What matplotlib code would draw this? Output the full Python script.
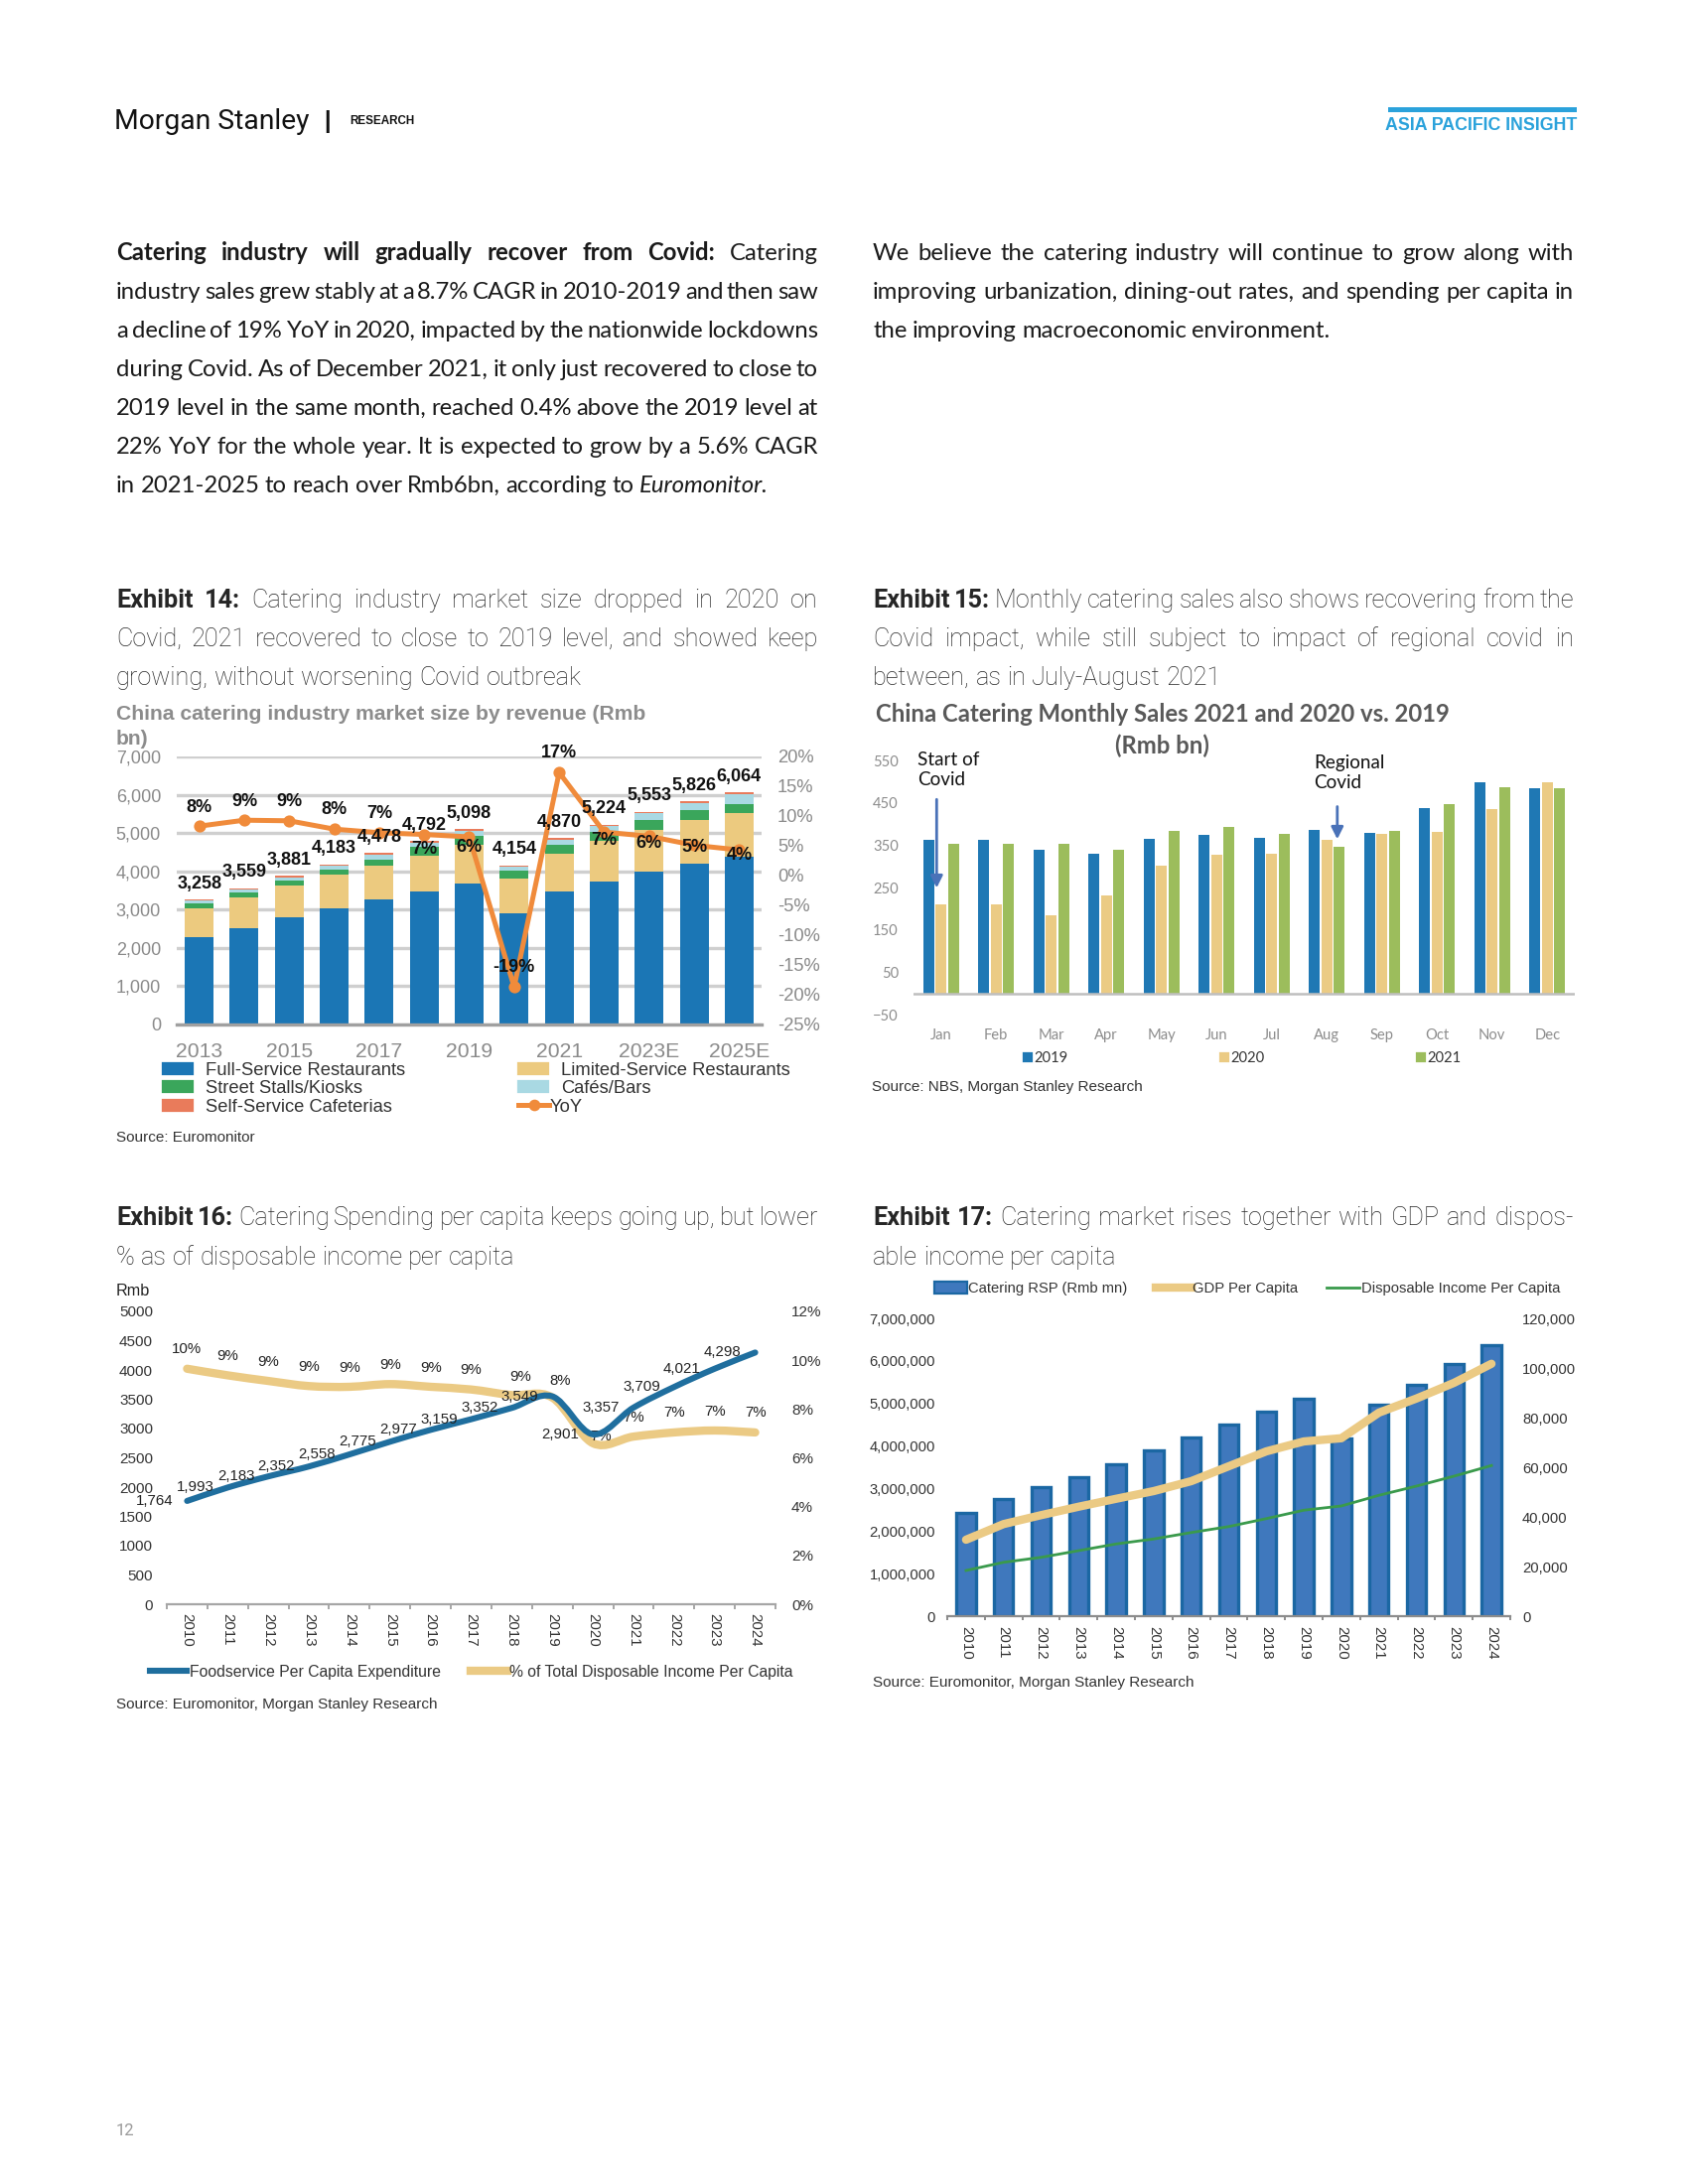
import numpy as np
import matplotlib
matplotlib.use('Agg')
import matplotlib.pyplot as plt
from matplotlib.path import Path
from matplotlib.patches import PathPatch, Rectangle
from matplotlib.lines import Line2D
from matplotlib.ticker import FuncFormatter

W, H, DPI = 1700, 2200, 200
PX = 72 / DPI  # points per pixel

BODY = 'Lato'
TITLE = 'Roboto'
CHART = 'Liberation Sans'
CALIBRI = 'Lato'

# ---------------- data ----------------
# Exhibit 14: market size by revenue (Rmb bn)
ex14_years = ['2013', '2014', '2015', '2016', '2017', '2018', '2019', '2020', '2021',
              '2022', '2023E', '2024E', '2025E']
ex14_ticklabels = ['2013', '', '2015', '', '2017', '', '2019', '', '2021', '', '2023E', '', '2025E']
ex14_full_service = [2284, 2517, 2802, 3034, 3267, 3474, 3681, 2905, 3474, 3733, 3991, 4198, 4388]
ex14_limited_service = [750, 802, 836, 888, 888, 940, 1009, 905, 983, 1069, 1087, 1138, 1146]
ex14_street_stalls = [130, 121, 129, 121, 147, 215, 224, 199, 233, 232, 258, 259, 225]
ex14_cafes_bars = [69, 91, 82, 107, 141, 127, 146, 115, 145, 153, 179, 192, 265]
ex14_self_service = [25, 28, 32, 33, 35, 36, 38, 30, 35, 37, 38, 39, 40]
ex14_totals = [3258, 3559, 3881, 4183, 4478, 4792, 5098, 4154, 4870, 5224, 5553, 5826, 6064]
ex14_yoy = [8.3, 9.3, 9.2, 7.8, 7.2, 6.9, 6.5, -18.7, 17.3, 7.3, 6.6, 5.1, 4.3]
ex14_yoy_labels = ['8%', '9%', '9%', '8%', '7%', '7%', '6%', '-19%', '17%', '7%', '6%', '5%', '4%']

# Exhibit 15: monthly catering sales (Rmb bn)
ex15_months = ['Jan', 'Feb', 'Mar', 'Apr', 'May', 'Jun', 'Jul', 'Aug', 'Sep', 'Oct', 'Nov', 'Dec']
ex15_2019 = [362, 362, 340, 329, 365, 374, 367, 386, 379, 437, 498, 484]
ex15_2020 = [210, 210, 184, 231, 301, 327, 329, 362, 376, 381, 434, 498]
ex15_2021 = [354, 354, 352, 339, 383, 393, 376, 346, 383, 447, 486, 484]

# Exhibit 16: spending per capita (Rmb) and % of disposable income
ex16_years = ['2010', '2011', '2012', '2013', '2014', '2015', '2016', '2017', '2018',
              '2019', '2020', '2021', '2022', '2023', '2024']
ex16_spend = [1764, 1993, 2183, 2352, 2558, 2775, 2977, 3159, 3352, 3549, 2901, 3357, 3709, 4021, 4298]
ex16_share = [9.65, 9.38, 9.15, 8.94, 8.91, 9.02, 8.91, 8.80, 8.57, 8.47, 6.6, 6.87, 7.04, 7.12, 7.04]

# Exhibit 17: catering RSP (Rmb mn), GDP and disposable income per capita
ex17_years = ex16_years
ex17_catering = [2430000, 2760000, 3040000, 3270000, 3580000, 3900000, 4210000, 4510000,
                 4810000, 5120000, 4180000, 4980000, 5440000, 5930000, 6380000]
ex17_gdp = [30800, 37100, 40700, 44100, 47300, 50400, 54400, 60400, 66400, 70400, 71700,
            82000, 87700, 94000, 101700]
ex17_income = [18400, 21700, 23700, 26400, 29100, 31100, 33700, 36100, 39300, 42700, 44400,
               48700, 52400, 56400, 60700]

body_left = [
    ('Catering industry will gradually recover from Covid:', 'Catering'),
    ('', 'industry sales grew stably at a 8.7% CAGR in 2010-2019 and then saw'),
    ('', 'a decline of 19% YoY in 2020, impacted by the nationwide lockdowns'),
    ('', 'during Covid. As of December 2021, it only just recovered to close to'),
    ('', '2019 level in the same month, reached 0.4% above the 2019 level at'),
    ('', '22% YoY for the whole year. It is expected to grow by a 5.6% CAGR'),
    ('', 'in 2021-2025 to reach over Rmb6bn, according to _Euromonitor.'),
]
body_right = [
    'We believe the catering industry will continue to grow along with',
    'improving urbanization, dining-out rates, and spending per capita in',
    'the improving macroeconomic environment.',
]
ex14_title = [('Exhibit 14:', 'Catering industry market size dropped in 2020 on'),
              ('', 'Covid, 2021 recovered to close to 2019 level, and showed keep'),
              ('', 'growing, without worsening Covid outbreak')]
ex15_title = [('Exhibit 15:', 'Monthly catering sales also shows recovering from the'),
              ('', 'Covid impact, while still subject to impact of regional covid in'),
              ('', 'between, as in July-August 2021')]
ex16_title = [('Exhibit 16:', 'Catering Spending per capita keeps going up, but lower'),
              ('', '% as of disposable income per capita')]
ex17_title = [('Exhibit 17:', 'Catering market rises together with GDP and dispos-'),
              ('', 'able income per capita')]

fig = plt.figure(figsize=(W / DPI, H / DPI), dpi=DPI)
fig.patch.set_facecolor('white')
renderer = fig.canvas.get_renderer()


def axes_px(x0, y0, x1, y1):
    return fig.add_axes([x0 / W, 1 - y1 / H, (x1 - x0) / W, (y1 - y0) / H])


def ftext(x, yc, s, size, **kw):
    yb = yc + 0.36 * size / PX
    return fig.text(x / W, 1 - yb / H, s, fontsize=size, va='baseline', **kw)


def place_line(bold_text, text, x0, x1, yc, size, family, weight, color, justify=True):
    words = [(w, 'bold', 'normal') for w in bold_text.split()]
    for w in text.split():
        if w.startswith('_'):
            words.append((w[1:], weight, 'italic'))
        else:
            words.append((w, weight, 'normal'))
    arts, widths = [], []
    for w, wt, st in words:
        t = ftext(0, yc, w, size, family=family, fontweight=wt, fontstyle=st, color=color, ha='left')
        arts.append(t)
        widths.append(t.get_window_extent(renderer).width)
    gap = 0.23 * size / PX
    if justify and len(words) > 1:
        gap = (x1 - x0 - sum(widths)) / (len(words) - 1)
    x = x0
    for t, wd in zip(arts, widths):
        t.set_x(x / W)
        x += wd + gap


def paragraph(lines, x0, x1, y0, step, size, family, weight, color):
    for i, (b, t) in enumerate(lines):
        place_line(b, t, x0, x1, y0 + i * step, size, family, weight, color,
                   justify=i < len(lines) - 1)


def legend_patch(x, yc, w, h, color, label, size, family, gap, edge=None):
    fig.add_artist(Rectangle((x / W, 1 - (yc + h / 2) / H), w / W, h / H, transform=fig.transFigure,
                             facecolor=color, edgecolor=edge or color, lw=0.8))
    ftext(x + w + gap, yc, label, size, family=family, color='#333333')


def legend_line(x, yc, w, color, lw, label, size, family, gap, marker=None):
    fig.add_artist(Line2D([x / W, (x + w / 2) / W, (x + w) / W], [1 - yc / H] * 3,
                          transform=fig.transFigure, color=color, lw=lw,
                          marker=marker, markevery=[1], ms=3.2))
    ftext(x + w + gap, yc, label, size, family=family, color='#333333')


def smooth_path(xs, ys):
    pts = np.column_stack([xs, ys]).astype(float)
    n = len(pts)
    verts, codes = [pts[0]], [Path.MOVETO]
    for i in range(n - 1):
        p0, p1 = pts[max(i - 1, 0)], pts[i]
        p2, p3 = pts[i + 1], pts[min(i + 2, n - 1)]
        verts += [p1 + (p2 - p0) / 6, p2 - (p3 - p1) / 6, p2]
        codes += [Path.CURVE4] * 3
    return Path(verts, codes)


def clean(ax):
    for s in ax.spines.values():
        s.set_visible(False)


# ---------------- header ----------------
ftext(115, 120, 'Morgan Stanley', 10.2, family=TITLE, color='#111111')
ftext(326, 121, '|', 8.5, family=CHART, fontweight='bold', color='#111111')
ftext(352, 121, 'RESEARCH', 4.2, family=CHART, fontweight='bold', color='#111111')
fig.add_artist(Rectangle((1398 / W, 1 - 113 / H), 190 / W, 5 / H, transform=fig.transFigure,
                         color='#2ba2db', lw=0))
ftext(1588, 125, 'ASIA PACIFIC INSIGHT', 6.4, family=CHART, fontweight='bold', color='#2ba2db', ha='right')
ftext(117, 2145, '12', 6, family=TITLE, color='#9a9a9a')

# ---------------- body text ----------------
paragraph(body_left, 117, 824, 253, 39, 8.6, BODY, 'normal', '#1a1a1a')
paragraph([('', t) for t in body_right], 879, 1585, 253, 39, 8.6, BODY, 'normal', '#1a1a1a')

paragraph(ex14_title, 117, 824, 603, 39, 9.1, TITLE, 'light', '#262626')
paragraph(ex15_title, 879, 1585, 603, 39, 9.1, TITLE, 'light', '#262626')
paragraph(ex16_title, 117, 824, 1225, 40, 9.1, TITLE, 'light', '#262626')
paragraph(ex17_title, 879, 1585, 1225, 40, 9.1, TITLE, 'light', '#262626')

# ---------------- Exhibit 14 ----------------
ftext(117, 717, 'China catering industry market size by revenue (Rmb', 7.6, family=CHART,
      fontweight='bold', color='#8c8c8c')
ftext(117, 742, 'bn)', 7.6, family=CHART, fontweight='bold', color='#8c8c8c')

ax = axes_px(178, 762, 767, 1032)
x = np.arange(len(ex14_years))
stacks = [
    (ex14_full_service, '#1b76b5'),
    (ex14_limited_service, '#ecca7f'),
    (ex14_street_stalls, '#3aa65b'),
    (ex14_cafes_bars, '#a9d9e3'),
    (ex14_self_service, '#e97b5b'),
]
bottom = np.zeros(len(x))
for vals, col in stacks:
    ax.bar(x, vals, 0.64, bottom=bottom, color=col, zorder=2)
    bottom += np.array(vals)
ax.set_xlim(-0.5, 12.5)
ax.set_ylim(0, 7000)
ax.set_yticks(range(0, 7001, 1000))
ax.yaxis.set_major_formatter(FuncFormatter(lambda v, p: f'{v:,.0f}'))
ax.grid(axis='y', color='#cfcfcf', lw=1.2, zorder=0)
ax.set_axisbelow(True)
clean(ax)
ax.spines['bottom'].set_visible(True)
ax.spines['bottom'].set_color('#a0a0a0')
ax.spines['bottom'].set_linewidth(1.2)
ax.set_xticks(x)
ax.set_xticklabels(ex14_ticklabels)
ax.tick_params(axis='y', length=0, pad=16 * PX, labelsize=6.5, labelcolor='#8a8a8a')
ax.tick_params(axis='x', length=0, pad=18 * PX, labelsize=7.6, labelcolor='#8a8a8a')
for lab in ax.get_xticklabels() + ax.get_yticklabels():
    lab.set_family(CHART)

ax2 = ax.twinx()
ax2.set_ylim(-25, 20)
ax2.set_yticks(range(-25, 21, 5))
ax2.yaxis.set_major_formatter(FuncFormatter(lambda v, p: f'{v:.0f}%'))
ax2.tick_params(axis='y', length=0, pad=16 * PX, labelsize=6.6, labelcolor='#8a8a8a')
for lab in ax2.get_yticklabels():
    lab.set_family(CHART)
clean(ax2)
ax2.plot(x, ex14_yoy, color='#f08b3b', lw=1.8, marker='o', ms=3.4, zorder=3)

for i, tot in enumerate(ex14_totals):
    ax2.annotate(f'{tot:,}', xy=(i, bottom[i]), xycoords=ax.transData, xytext=(0, 16 * PX),
                 textcoords='offset points', ha='center', va='center', fontsize=6.5,
                 fontweight='bold', family=CHART, color='#111111', zorder=4)
yoy_dy = [19, 19, 19, 20, 19, -15, -10, 20, 20, -8, -7, -2, -5]
for i, (v, lab) in enumerate(zip(ex14_yoy, ex14_yoy_labels)):
    ax2.annotate(lab, xy=(i, v), xytext=(0, yoy_dy[i] * PX), textcoords='offset points',
                 ha='center', va='center', fontsize=6.5, fontweight='bold', family=CHART,
                 color='#111111', zorder=4)

legend_patch(164, 1076, 30, 11, '#1b76b5', 'Full-Service Restaurants', 6.6, CHART, 13)
legend_patch(164, 1094, 30, 11, '#3aa65b', 'Street Stalls/Kiosks', 6.6, CHART, 13)
legend_patch(164, 1113, 30, 11, '#e97b5b', 'Self-Service Cafeterias', 6.6, CHART, 13)
legend_patch(522, 1076, 30, 11, '#ecca7f', 'Limited-Service Restaurants', 6.6, CHART, 13)
legend_patch(522, 1094, 30, 11, '#a9d9e3', 'Cafés/Bars', 6.6, CHART, 13)
legend_line(522, 1113, 31, '#f08b3b', 1.8, 'YoY', 6.6, CHART, 1, marker='o')
ftext(117, 1144, 'Source: Euromonitor', 5.5, family=CHART, color='#333333')

# ---------------- Exhibit 15 ----------------
ftext(1171, 718, 'China Catering Monthly Sales 2021 and 2020 vs. 2019', 8.6, family=CALIBRI,
      fontweight='bold', color='#595959', ha='center')
ftext(1170, 750, '(Rmb bn)', 8.6, family=CALIBRI, fontweight='bold', color='#595959', ha='center')

ax = axes_px(920, 766, 1586, 1022)
x = np.arange(len(ex15_months))
ax.bar(x - 0.225, ex15_2019, 0.205, color='#1f78b4', zorder=2)
ax.bar(x, ex15_2020, 0.205, color='#ebcb84', zorder=2)
ax.bar(x + 0.225, ex15_2021, 0.205, color='#9cbd5c', zorder=2)
ax.axhline(0, color='#bfbfbf', lw=0.9, zorder=3)
ax.set_xlim(-0.5, 11.5)
ax.set_ylim(-50, 550)
ax.set_yticks(range(-50, 551, 100))
ax.set_xticks(x)
ax.set_xticklabels(ex15_months)
ax.tick_params(length=0, labelsize=5.3, labelcolor='#8c8c8c')
ax.tick_params(axis='y', pad=15 * PX)
ax.tick_params(axis='x', pad=14 * PX)
for lab in ax.get_xticklabels() + ax.get_yticklabels():
    lab.set_family(CALIBRI)
clean(ax)
ax.annotate('', xy=(-0.08, 249), xytext=(-0.08, 458),
            arrowprops=dict(arrowstyle='-|>', color='#4a72b8', lw=1.0, mutation_scale=9,
                            shrinkA=0, shrinkB=0))
ax.annotate('', xy=(7.19, 364), xytext=(7.19, 441),
            arrowprops=dict(arrowstyle='-|>', color='#4a72b8', lw=1.0, mutation_scale=9,
                            shrinkA=0, shrinkB=0))
ax.text(-0.43, 572, 'Start of\nCovid', fontsize=6.8, family=CALIBRI, color='#111111',
        va='top', ha='left', linespacing=1.25, clip_on=False)
ax.text(6.76, 565, 'Regional\nCovid', fontsize=6.8, family=CALIBRI, color='#111111',
        va='top', ha='left', linespacing=1.25, clip_on=False)

legend_patch(1031, 1065, 8, 8, '#1f78b4', '2019', 5.3, CALIBRI, 2)
legend_patch(1229, 1065, 8, 8, '#ebcb84', '2020', 5.3, CALIBRI, 2)
legend_patch(1427, 1065, 8, 8, '#9cbd5c', '2021', 5.3, CALIBRI, 2)
ftext(878, 1094, 'Source: NBS, Morgan Stanley Research', 5.5, family=CHART, color='#333333')

# ---------------- Exhibit 16 ----------------
ftext(117, 1299, 'Rmb', 5.8, family=CHART, color='#222222')
ax = axes_px(168, 1321, 781, 1616)
x = np.arange(len(ex16_years))
ax.set_xlim(-0.5, 14.5)
ax.set_ylim(0, 5000)
ax.set_yticks(range(0, 5001, 500))
ax.set_xticks(x)
ax.set_xticklabels(ex16_years, rotation=-90)
ax.set_xticks(np.arange(-0.5, 15, 1), minor=True)
ax.tick_params(axis='x', which='major', length=0, pad=9 * PX, labelsize=5.4, labelcolor='#333333')
ax.tick_params(axis='x', which='minor', length=5 * PX, width=0.7, color='#a6a6a6')
ax.tick_params(axis='y', length=0, pad=14 * PX, labelsize=5.5, labelcolor='#333333')
for lab in ax.get_xticklabels() + ax.get_yticklabels():
    lab.set_family(CHART)
clean(ax)
ax.spines['bottom'].set_visible(True)
ax.spines['bottom'].set_color('#a6a6a6')
ax.spines['bottom'].set_linewidth(0.8)

ax2 = ax.twinx()
ax2.set_ylim(0, 12)
ax2.set_yticks(range(0, 13, 2))
ax2.yaxis.set_major_formatter(FuncFormatter(lambda v, p: f'{v:.0f}%'))
ax2.tick_params(axis='y', length=0, pad=16 * PX, labelsize=5.5, labelcolor='#333333')
for lab in ax2.get_yticklabels():
    lab.set_family(CHART)
clean(ax2)
ax.set_zorder(ax2.get_zorder() + 1)
ax.patch.set_visible(False)

ax2.add_patch(PathPatch(smooth_path(x, ex16_share), facecolor='none', edgecolor='#ebca84',
                        lw=3.0, capstyle='round', joinstyle='round'))
ax.add_patch(PathPatch(smooth_path(x, ex16_spend), facecolor='none', edgecolor='#1f6e9e',
                       lw=2.2, capstyle='round', joinstyle='round'))
for i, v in enumerate(ex16_spend):
    ax.annotate(f'{v:,}', xy=(i, v), xytext=(-5, 0), textcoords='offset points', ha='right',
                va='center', fontsize=5.4, family=CHART, color='#222222')
share_off = {8: (3, 6.5), 9: (3, 6), 10: (3, 2.5)}
for i, v in enumerate(ex16_share):
    dx, dy = share_off.get(i, (0, 7))
    ax2.annotate(f'{v:.0f}%', xy=(i, v), xytext=(dx, dy), textcoords='offset points', ha='center',
                 va='center', fontsize=5.4, family=CHART, color='#222222')

legend_line(151, 1683, 37, '#1f6e9e', 2.2, 'Foodservice Per Capita Expenditure', 5.7, CHART, 3)
legend_line(474, 1683, 37, '#ebca84', 3.0, '% of Total Disposable Income Per Capita', 5.7, CHART, 2)
ftext(117, 1716, 'Source: Euromonitor, Morgan Stanley Research', 5.5, family=CHART, color='#333333')

# ---------------- Exhibit 17 ----------------
ax = axes_px(954, 1328, 1521, 1628)
x = np.arange(len(ex17_years))
ax.bar(x, ex17_catering, 0.51, color='#3f78bd', edgecolor='#1b67a3', lw=1.2, zorder=2)
ax.set_xlim(-0.5, 14.5)
ax.set_ylim(0, 7000000)
ax.set_yticks(range(0, 7000001, 1000000))
ax.yaxis.set_major_formatter(FuncFormatter(lambda v, p: f'{v:,.0f}'))
ax.set_xticks(x)
ax.set_xticklabels(ex17_years, rotation=-90)
ax.set_xticks(np.arange(-0.5, 15, 1), minor=True)
ax.tick_params(axis='x', which='major', length=0, pad=10 * PX, labelsize=5.4, labelcolor='#333333')
ax.tick_params(axis='x', which='minor', length=4 * PX, width=0.7, color='#8c8c8c')
ax.tick_params(axis='y', length=0, pad=12 * PX, labelsize=5.3, labelcolor='#333333')
for lab in ax.get_xticklabels() + ax.get_yticklabels():
    lab.set_family(CHART)
clean(ax)
ax.spines['bottom'].set_visible(True)
ax.spines['bottom'].set_color('#8c8c8c')
ax.spines['bottom'].set_linewidth(0.8)

ax2 = ax.twinx()
ax2.set_ylim(0, 120000)
ax2.set_yticks(range(0, 120001, 20000))
ax2.yaxis.set_major_formatter(FuncFormatter(lambda v, p: f'{v:,.0f}'))
ax2.tick_params(axis='y', length=0, pad=12 * PX, labelsize=5.3, labelcolor='#333333')
for lab in ax2.get_yticklabels():
    lab.set_family(CHART)
clean(ax2)
ax2.plot(x, ex17_gdp, color='#ebca84', lw=3.0, solid_capstyle='round')
ax2.plot(x, ex17_income, color='#3a9a4c', lw=1.0)

legend_patch(941, 1297, 33, 12, '#3f78bd', 'Catering RSP (Rmb mn)', 5.3, CHART, 1, edge='#1b67a3')
legend_line(1164, 1297, 36, '#ebca84', 3.0, 'GDP Per Capita', 5.3, CHART, 1)
legend_line(1336, 1297, 33, '#3a9a4c', 1.0, 'Disposable Income Per Capita', 5.3, CHART, 2)
ftext(879, 1693, 'Source: Euromonitor, Morgan Stanley Research', 5.5, family=CHART, color='#333333')

fig.savefig('out.png', dpi=DPI)
